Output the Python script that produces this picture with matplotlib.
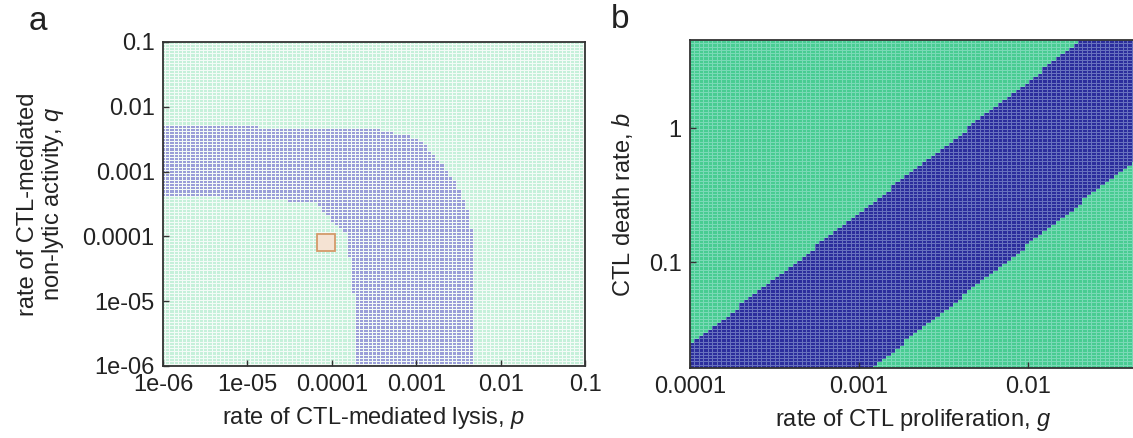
import numpy as np
import matplotlib
matplotlib.use("Agg")
import matplotlib.pyplot as plt
from matplotlib.path import Path
from matplotlib.colors import ListedColormap
from matplotlib.patches import Rectangle
from matplotlib.ticker import FuncFormatter, NullLocator

plt.rcParams['font.family'] = ['Liberation Sans', 'DejaVu Sans']
plt.rcParams['mathtext.fontset'] = 'custom'
plt.rcParams['mathtext.it'] = 'Liberation Sans:italic'
plt.rcParams['mathtext.rm'] = 'Liberation Sans'

# ---------------- data (log10 units) ----------------
# panel a: parameter grid
a_log_min, a_log_max, a_cells = -6.0, -1.0, 101
# outer edge of the blue region (log10 p, log10 q)
a_outer_logp = [-6.0, -4.88, -4.86, -3.46, -3.20, -2.98, -2.77, -2.55, -2.40, -2.34, -2.34]
a_outer_logq = [-2.26, -2.26, -2.34, -2.34, -2.42, -2.47, -2.78, -3.14, -3.55, -3.96, -6.0]
# inner edge of the blue region (log10 p, log10 q)
a_inner_logp = [-6.0, -5.35, -5.33, -4.53, -4.49, -4.19, -4.06, -4.02, -3.84, -3.78, -3.74, -3.72]
a_inner_logq = [-3.35, -3.35, -3.42, -3.42, -3.50, -3.50, -3.65, -3.78, -3.96, -4.48, -4.99, -6.0]
# highlighted parameter box (log10 p range, log10 q range)
a_box_logp = [-4.17, -3.96]
a_box_logq = [-4.22, -3.96]
a_ticks = [1e-6, 1e-5, 1e-4, 1e-3, 1e-2, 1e-1]

# panel b: parameter grid
b_logg_min, b_logg_max = -4.0, -1.36
b_logb_min, b_logb_max = -1.79, 0.66
b_cells = 100
# band edges: two read points each (log10 g, log10 b)
b_upper_logg = [-4.0, -1.69]
b_upper_logb = [-1.61, 0.66]
b_lower_logg = [-2.93, -1.36]
b_lower_logb = [-1.79, -0.225]
b_xticks = [1e-4, 1e-3, 1e-2]
b_yticks = [0.1, 1]

# ---------------- figure ----------------
W, H = 1133, 438
fig = plt.figure(figsize=(W / 100, H / 100), dpi=100)


def rect(l, t, r, b):
    return [l / W, 1 - b / H, (r - l) / W, (b - t) / H]


ax_a = fig.add_axes(rect(163, 42, 585, 366))
ax_b = fig.add_axes(rect(690, 40, 1136, 368))

fmt = FuncFormatter(lambda v, pos: '%g' % v)
FS = 17

# ----- panel a -----
centers = np.linspace(a_log_min, a_log_max, a_cells)
step = centers[1] - centers[0]
edges = np.concatenate([centers - step / 2, [centers[-1] + step / 2]])
LP, LQ = np.meshgrid(centers, centers)
pts = np.column_stack([LP.ravel(), LQ.ravel()])


def region(xs, ys):
    verts = [(-7.0, ys[0])] + list(zip(xs, ys)) + [(xs[-1], -7.0), (-7.0, -7.0)]
    return Path(verts).contains_points(pts).reshape(LP.shape)


inside_outer = region(a_outer_logp, a_outer_logq)
inside_inner = region(a_inner_logp, a_inner_logq)
a_state = (inside_outer & ~inside_inner).astype(float)

cmap_a = ListedColormap(['#c6f0da', '#9a9ed8'])
ax_a.pcolormesh(10 ** edges, 10 ** edges, a_state, cmap=cmap_a, vmin=0, vmax=1,
                edgecolors='#f4fbf7', linewidth=0.7, shading='flat')
ax_a.add_patch(Rectangle((10 ** a_box_logp[0], 10 ** a_box_logq[0]),
                         10 ** a_box_logp[1] - 10 ** a_box_logp[0],
                         10 ** a_box_logq[1] - 10 ** a_box_logq[0],
                         facecolor='#f5e3d3', edgecolor='#d49a6a', linewidth=1.3, zorder=3))
ax_a.set_xscale('log')
ax_a.set_yscale('log')
ax_a.set_xlim(10 ** a_log_min, 10 ** a_log_max)
ax_a.set_ylim(10 ** a_log_min, 10 ** a_log_max)
ax_a.set_xticks(a_ticks)
ax_a.set_yticks(a_ticks)
ax_a.xaxis.set_major_formatter(fmt)
ax_a.yaxis.set_major_formatter(fmt)
ax_a.set_xlabel('rate of CTL-mediated lysis, $p$', fontsize=FS, color='#222222', labelpad=6)
ax_a.set_ylabel('rate of CTL-mediated\nnon-lytic activity, $q$', fontsize=FS, color='#222222',
                labelpad=12, linespacing=1.05)

# ----- panel b -----
gc = np.linspace(b_logg_min, b_logg_max, b_cells + 1)
bc = np.linspace(b_logb_min, b_logb_max, b_cells + 1)
gmid = (gc[:-1] + gc[1:]) / 2
bmid = (bc[:-1] + bc[1:]) / 2
G, B = np.meshgrid(gmid, bmid)
up = np.polyfit(b_upper_logg, b_upper_logb, 1)
lo = np.polyfit(b_lower_logg, b_lower_logb, 1)
b_state = ((B < np.polyval(up, G)) & (B > np.polyval(lo, G))).astype(float)

cmap_b = ListedColormap(['#48cc92', '#2c2e9c'])
ax_b.pcolormesh(10 ** gc, 10 ** bc, b_state, cmap=cmap_b, vmin=0, vmax=1,
                edgecolors=(0.85, 0.95, 1.0, 0.35), linewidth=0.5, shading='flat')
ax_b.set_xscale('log')
ax_b.set_yscale('log')
ax_b.set_xlim(10 ** b_logg_min, 10 ** b_logg_max)
ax_b.set_ylim(10 ** b_logb_min, 10 ** b_logb_max)
ax_b.set_xticks(b_xticks)
ax_b.set_yticks(b_yticks)
ax_b.xaxis.set_major_formatter(fmt)
ax_b.yaxis.set_major_formatter(fmt)
ax_b.set_xlabel('rate of CTL proliferation, $g$', fontsize=FS, color='#222222', labelpad=6)
ax_b.set_ylabel('CTL death rate, $b$', fontsize=FS, color='#222222', labelpad=10)

for ax in (ax_a, ax_b):
    ax.xaxis.set_minor_locator(NullLocator())
    ax.yaxis.set_minor_locator(NullLocator())
    ax.tick_params(which='major', direction='in', length=4, width=1, color='#333333',
                   labelsize=FS, labelcolor='#222222', pad=6, top=False, right=False)
    for s in ax.spines.values():
        s.set_color('#333333')
        s.set_linewidth(1.3)

fig.text(38 / W, 1 - 22 / H, 'a', fontsize=24, ha='center', va='center', color='#222222')
fig.text(620 / W, 1 - 20 / H, 'b', fontsize=24, ha='center', va='center', color='#222222')

fig.savefig('out.png', dpi=100)
